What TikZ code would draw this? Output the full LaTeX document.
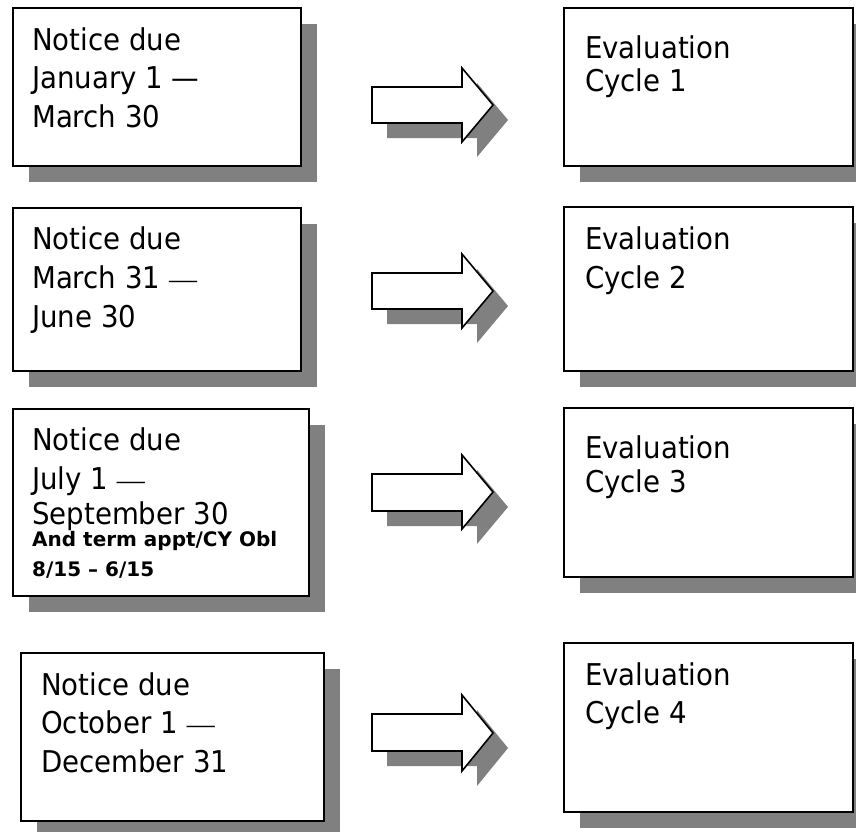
\documentclass[tikz,border=0pt]{standalone}
\usepackage{fontspec}
\setmainfont{DejaVu Sans}[FakeStretch=0.92]
\newfontfamily\boldsans{DejaVu Sans}[BoldFont=DejaVu Sans Bold]
\newfontfamily\dashserif{Liberation Serif}
\usetikzlibrary{shadows}
\definecolor{shgray}{RGB}{128,128,128}
\begin{document}
\begin{tikzpicture}[x=1pt,y=-1pt,
  box/.style={draw=black, line width=1.6pt, fill=white, anchor=north west, inner sep=0pt,
    drop shadow={shadow xshift=16pt, shadow yshift=-16pt, opacity=1, fill=shgray}},
  blockarrow/.style={draw=black, line width=1.6pt, fill=white, line join=miter,
    drop shadow={shadow xshift=15pt, shadow yshift=-15pt, opacity=1, fill=shgray}},
  txt/.style={anchor=base west, inner sep=0pt, font=\fontsize{30}{36}\selectfont},
  smalltxt/.style={anchor=base west, inner sep=0pt, font=\boldsans\bfseries\fontsize{20}{24}\selectfont}]
\useasboundingbox (0,0) rectangle (856,831);
\fill[white] (0,0) rectangle (856,831);

% ---------- left boxes ----------
\node[box, minimum width=288pt, minimum height=158pt] (L1) at (12,7) {};
\node[box, minimum width=288pt, minimum height=163pt] (L2) at (12,207) {};
\node[box, minimum width=296pt, minimum height=187pt] (L3) at (12,408) {};
\node[box, minimum width=303pt, minimum height=168pt] (L4) at (20,652) {};

% ---------- right boxes ----------
\node[box, minimum width=289pt, minimum height=158pt] (R1) at (563,7) {};
\node[box, minimum width=289pt, minimum height=164pt] (R2) at (563,206) {};
\node[box, minimum width=289pt, minimum height=169pt] (R3) at (563,407) {};
\node[box, minimum width=289pt, minimum height=169pt] (R4) at (563,642) {};

% ---------- block arrows ----------
\draw[blockarrow] (372,87) -- (462,87) -- (462,68) -- (493,105) -- (462,142) -- (462,123) -- (372,123) -- cycle;
\draw[blockarrow] (372,273) -- (462,273) -- (462,254) -- (493,291) -- (462,328) -- (462,309) -- (372,309) -- cycle;
\draw[blockarrow] (372,474) -- (462,474) -- (462,455) -- (493,492) -- (462,529) -- (462,511) -- (372,511) -- cycle;
\draw[blockarrow] (372,714) -- (462,714) -- (462,695) -- (493,733) -- (462,771) -- (462,751) -- (372,751) -- cycle;

% ---------- left texts ----------
\node[txt] (L1a) at (32,50) {Notice due};
\node[txt] (L1b) at (32,88) {January 1 —};
\node[txt] (L1c) at (32,127) {March 30};

\node[txt] (L2a) at (32,249) {Notice due};
\node[txt] (L2b) at (32,288) {March 31 {\dashserif\fontsize{28}{30}\selectfont —}};
\node[txt] (L2c) at (32,327) {June 30};

\node[txt] (L3a) at (32,450) {Notice due};
\node[txt] (L3b) at (32,489) {July 1 {\dashserif\fontsize{28}{30}\selectfont —}};
\node[txt] (L3c) at (32,524) {September 30};
\node[smalltxt] (L3d) at (32,546) {And term appt/CY Obl};
\node[smalltxt] (L3e) at (32,576) {8/15 – 6/15};

\node[txt] (L4a) at (41,695) {Notice due};
\node[txt] (L4b) at (41,733) {October 1 {\dashserif\fontsize{28}{30}\selectfont —}};
\node[txt] (L4c) at (41,772) {December 31};

% ---------- right texts ----------
\node[txt] (R1a) at (585,58) {Evaluation};
\node[txt] (R1b) at (585,91) {Cycle 1};
\node[txt] (R2a) at (585,249) {Evaluation};
\node[txt] (R2b) at (585,288) {Cycle 2};
\node[txt] (R3a) at (585,458) {Evaluation};
\node[txt] (R3b) at (585,492) {Cycle 3};
\node[txt] (R4a) at (585,685) {Evaluation};
\node[txt] (R4b) at (585,723) {Cycle 4};
\end{tikzpicture}
\end{document}
